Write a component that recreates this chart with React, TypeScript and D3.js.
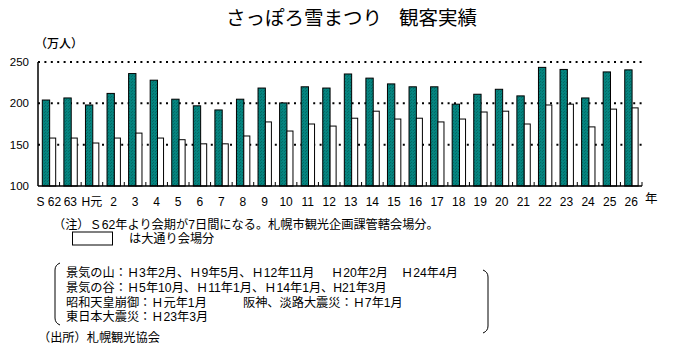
import React from "react";
import * as d3 from "d3";

const categories = ["S 62", "63", "H元", "2", "3", "4", "5", "6", "7", "8", "9", "10", "11", "12", "13", "14", "15", "16", "17", "18", "19", "20", "21", "22", "23", "24", "25", "26"];
const totalVisitors = [204, 206.5, 198, 212, 236, 228, 205, 197, 192, 205, 218.5, 200.5, 220, 218.5, 235.5, 230.5, 223.5, 220, 220, 199, 211, 217, 209, 243.5, 241, 206.5, 238, 240.5];
const odoriVisitors = [158, 158, 152, 158, 164, 158, 156, 151, 151, 160.5, 177.5, 166.5, 175, 172.5, 182, 190.5, 181, 182, 177.5, 181, 189.5, 190.5, 175, 198, 199, 171.5, 193, 194.5];
const yTicks = [100, 150, 200, 250];
const gridValues = [150, 200, 250];

const titleParts = ["さっぽろ雪まつり", "観客実績"];
const unitLabel = "（万人）";
const yearLabel = "年";
const note1 = "（注）Ｓ62年より会期が7日間になる。札幌市観光企画課管轄会場分。";
const note2 = "は大通り会場分";
const peakLabel = "景気の山：Ｈ3年2月、Ｈ9年5月、Ｈ12年11月";
const peakExtra = ["Ｈ20年2月", "Ｈ24年4月"];
const troughLabel = "景気の谷：Ｈ5年10月、Ｈ11年1月、Ｈ14年1月、H21年3月";
const eventLabel1 = "昭和天皇崩御：Ｈ元年1月";
const eventLabel2 = "阪神、淡路大震災：Ｈ7年1月";
const eventLabel3 = "東日本大震災：Ｈ23年3月";
const sourceLabel = "（出所）札幌観光協会";

const W = 674;
const H = 358;
const left = 38;
const right = 642;
const top = 62;
const bottom = 186;

const FONT = "'Liberation Sans', 'Noto Sans CJK JP', sans-serif";

export default function App() {
  const x = d3.scaleBand<string>().domain(categories).range([left, right]).paddingInner(0).paddingOuter(0);
  const y = d3.scaleLinear().domain([100, 250]).range([bottom, top]);
  const bw = x.bandwidth();
  const tealW = bw * 0.34;
  const whiteW = bw * 0.28;
  const tealOff = bw * 0.2;

  return (
    <div style={{ position: "fixed", left: 0, top: 0 }}>
      <svg width={W} height={H} viewBox={`0 0 ${W} ${H}`} style={{ display: "block", background: "#fff" }}>
        <defs>
          <pattern id="teal" width="3" height="3" patternUnits="userSpaceOnUse">
            <rect width="3" height="3" fill="#05847f" />
            <rect x="0" y="0" width="1" height="1" fill="#036a66" />
            <rect x="2" y="1" width="1" height="1" fill="#036a66" />
          </pattern>
        </defs>
        <text x={226} y={25} fontFamily="'Noto Sans CJK JP', sans-serif" fontSize={19.5} fill="#000">{titleParts[0]}</text>
        <text x={399} y={25} fontFamily="'Noto Sans CJK JP', sans-serif" fontSize={19.5} fill="#000">{titleParts[1]}</text>
        <text x={35} y={48} fontFamily="'Noto Sans CJK JP', sans-serif" fontSize={12} fontWeight={500} fill="#000">{unitLabel}</text>

        {gridValues.map((v) => (
          <line key={v} x1={left} x2={right} y1={y(v)} y2={y(v)} stroke="#000" strokeWidth={2} strokeDasharray="2 4.4" />
        ))}

        {categories.map((c, i) => (
          <g key={c}>
            <rect x={x(c)! + tealOff} y={y(totalVisitors[i])} width={tealW} height={bottom - y(totalVisitors[i])} fill="url(#teal)" stroke="#000" strokeWidth={1} />
            <rect x={x(c)! + tealOff + tealW} y={y(odoriVisitors[i])} width={whiteW} height={bottom - y(odoriVisitors[i])} fill="#fff" stroke="#000" strokeWidth={1} />
          </g>
        ))}

        <line x1={left} x2={left} y1={top} y2={bottom} stroke="#000" strokeWidth={1.5} />
        <line x1={left} x2={right} y1={bottom} y2={bottom} stroke="#000" strokeWidth={1.5} />
        {categories.map((c) => (
          <line key={"t" + c} x1={x(c)! + bw} x2={x(c)! + bw} y1={bottom} y2={bottom - 4} stroke="#000" strokeWidth={1} />
        ))}

        {yTicks.map((v) => (
          <text key={v} x={29} y={y(v) + 4} textAnchor="end" fontFamily={FONT} fontSize={11.5} fill="#000">{v}</text>
        ))}
        {categories.map((c) => (
          <text key={"l" + c} x={x(c)! + bw / 2} y={205.5} textAnchor="middle" fontFamily={FONT} fontSize={12} fill="#000">{c}</text>
        ))}
        <text x={645} y={203} fontFamily={FONT} fontSize={12.5} fill="#000">{yearLabel}</text>

        <text x={53} y={229} fontFamily={FONT} fontSize={12.2} fill="#000">{note1}</text>
        <rect x={72.5} y={232} width={40} height={13} fill="#fff" stroke="#000" strokeWidth={1} />
        <text x={129} y={243} fontFamily={FONT} fontSize={12.2} fill="#000">{note2}</text>

        <path d="M60,263 Q55,265 55,270 L55,318 Q55,323 60,325" fill="none" stroke="#000" strokeWidth={1} />
        <path d="M483,270 Q488,272 488,277 L488,326 Q488,331 483,333" fill="none" stroke="#000" strokeWidth={1} />

        <text x={66} y={277} fontFamily={FONT} fontSize={12.2} fill="#000">{peakLabel}</text>
        <text x={331} y={277} fontFamily={FONT} fontSize={12.2} fill="#000">{peakExtra[0]}</text>
        <text x={401} y={277} fontFamily={FONT} fontSize={12.2} fill="#000">{peakExtra[1]}</text>
        <text x={66} y={292} fontFamily={FONT} fontSize={12.2} fill="#000">{troughLabel}</text>
        <text x={66} y={307} fontFamily={FONT} fontSize={12.2} fill="#000">{eventLabel1}</text>
        <text x={243} y={307} fontFamily={FONT} fontSize={12.2} fill="#000">{eventLabel2}</text>
        <text x={66} y={321} fontFamily={FONT} fontSize={12.2} fill="#000">{eventLabel3}</text>
        <text x={38} y={342} fontFamily={FONT} fontSize={12.2} fill="#000">{sourceLabel}</text>
      </svg>
    </div>
  );
}
